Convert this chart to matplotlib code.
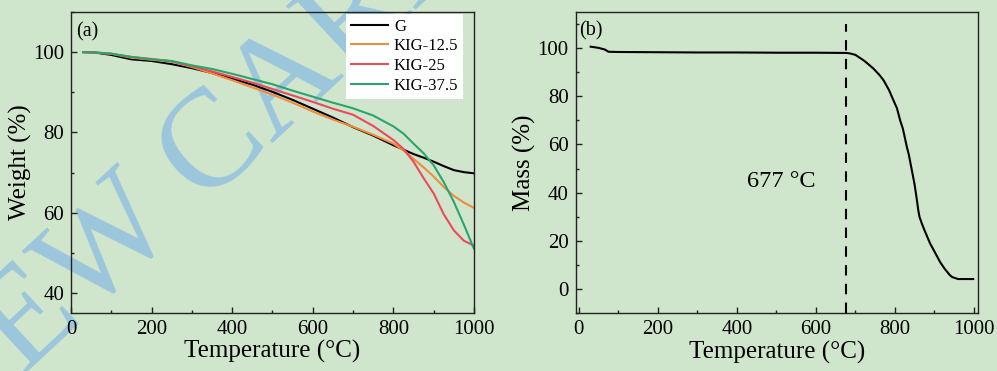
import matplotlib
matplotlib.use('Agg')
import matplotlib.pyplot as plt
from matplotlib.ticker import MultipleLocator

plt.rcParams['font.family'] = ['Liberation Serif', 'DejaVu Serif']

# (a) TGA curves of the samples
temp_a = [30, 60, 100, 150, 200, 250, 300, 350, 400, 450, 500, 550, 600, 650,
          700, 750, 800, 825, 850, 875, 900, 925, 950, 975, 1000]
w_g = [100, 99.9, 99.3, 98.2, 97.8, 97.0, 96.0, 94.8, 93.4, 91.9, 90.1, 88.1, 85.9, 83.7,
       81.3, 79.2, 76.8, 75.7, 74.6, 73.7, 72.7, 71.6, 70.6, 70.1, 69.8]
w_k125 = [100, 99.9, 99.6, 98.6, 98.1, 97.6, 96.3, 94.7, 93.0, 91.2, 89.4, 87.4, 85.2, 83.2,
          81.4, 79.4, 77.2, 75.5, 73.4, 71.3, 69.0, 66.4, 64.2, 62.5, 61.2]
w_k25 = [100, 99.9, 99.6, 98.8, 98.3, 97.7, 96.5, 95.2, 93.8, 92.4, 90.8, 89.2, 87.6, 85.9,
         84.4, 81.6, 78.1, 75.9, 72.7, 68.6, 64.8, 59.6, 55.6, 53.0, 51.8]
w_k375 = [100, 99.9, 99.6, 98.8, 98.2, 97.8, 96.7, 95.8, 94.6, 93.3, 92.0, 90.4, 88.9, 87.4,
          86.0, 84.2, 81.5, 79.7, 77.2, 74.8, 71.8, 67.6, 62.7, 57.0, 51.0]
labels_a = ['G', 'KIG-12.5', 'KIG-25', 'KIG-37.5']
colors_a = ['black', '#f08c3c', '#ec4a5c', '#2aa56e']

# (b) mass loss curve
temp_b = [30, 50, 66, 75, 100, 200, 300, 400, 500, 600, 677, 686, 700, 720, 730, 745, 760,
          771, 785, 796, 805, 813, 820, 830, 835, 846, 850, 855, 859, 862, 868, 875, 889,
          900, 914, 925, 939, 945, 956, 960, 975, 998]
mass_b = [100.5, 100.0, 99.3, 98.4, 98.3, 98.2, 98.1, 98.1, 98.0, 98.0, 97.9, 97.7, 97.1,
          94.9, 93.6, 91.5, 88.9, 86.6, 82.5, 78.3, 75.0, 70.0, 66.5, 59.0, 55.8, 46.5, 43.0,
          37.5, 32.7, 30.0, 27.2, 24.3, 18.9, 15.6, 11.3, 8.6, 5.8, 5.0, 4.4, 4.2, 4.2, 4.2]
onset_temp = 677

bg = '#d0e6cc'
fig = plt.figure(figsize=(9.97, 3.71), dpi=100, facecolor=bg)

# watermark behind the axes
fig.text(-0.051, -0.197, 'NEW CARBON', rotation=43, rotation_mode='anchor',
         fontsize=100, color='#9cc6dc', ha='left', va='baseline', zorder=-1)

ax1 = fig.add_axes([0.0712, 0.1563, 0.4042, 0.8114])
ax2 = fig.add_axes([0.5774, 0.1555, 0.4039, 0.8130])

for ax in (ax1, ax2):
    ax.set_facecolor('none')
    for s in ax.spines.values():
        s.set_linewidth(1.0)
        s.set_color('#222222')
    ax.tick_params(which='both', direction='in', top=False, right=False,
                   labelsize=15, pad=5, width=1.0, color='#222222')
    ax.tick_params(which='major', length=4)
    ax.tick_params(which='minor', length=2.5)
    ax.xaxis.set_major_locator(MultipleLocator(200))
    ax.xaxis.set_minor_locator(MultipleLocator(100))
    ax.set_xlabel('Temperature (°C)', fontsize=18, labelpad=1)

series = [w_g, w_k125, w_k25, w_k375]
for w, lab, c in zip(series, labels_a, colors_a):
    ax1.plot(temp_a, w, color=c, lw=1.5, label=lab)
ax1.set_xlim(0, 1000)
ax1.set_ylim(35, 110)
ax1.yaxis.set_minor_locator(MultipleLocator(10))
ax1.set_yticks([40, 60, 80, 100])
ax1.set_ylabel('Weight (%)', fontsize=18, labelpad=1)
leg = ax1.legend(loc='upper right', bbox_to_anchor=(0.978, 1.0), fontsize=12,
                 frameon=True, fancybox=False, framealpha=1, borderaxespad=0.1,
                 handlelength=2.2, labelspacing=0.22, borderpad=0.3, handletextpad=0.35)
leg.get_frame().set_facecolor('white')
leg.get_frame().set_edgecolor('none')
ax1.text(0.012, 0.965, '(a)', transform=ax1.transAxes, fontsize=14.5, va='top', ha='left')

ax2.plot(temp_b, mass_b, color='black', lw=1.5)
ax2.vlines(onset_temp, -10, 110, colors='black', linestyles=(0, (5, 4)), lw=1.5)
ax2.text(513, 44.5, f'{onset_temp} °C', fontsize=17.5, ha='center', va='center')
ax2.set_xlim(-8, 1011)
ax2.set_ylim(-10, 115)
ax2.yaxis.set_major_locator(MultipleLocator(20))
ax2.yaxis.set_minor_locator(MultipleLocator(10))
ax2.set_ylabel('Mass (%)', fontsize=18, labelpad=1)
ax2.text(0.008, 0.97, '(b)', transform=ax2.transAxes, fontsize=14.5, va='top', ha='left')

fig.savefig('out.png', dpi=100, facecolor=bg)
